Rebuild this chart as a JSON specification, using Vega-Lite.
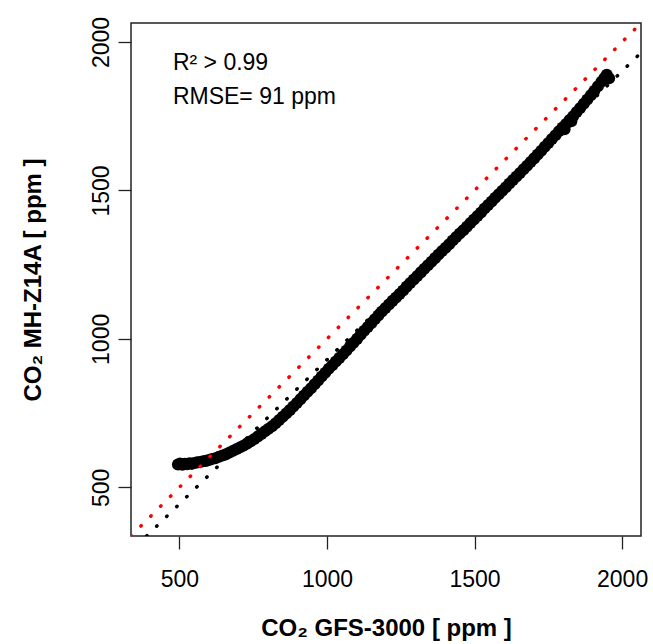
{
  "$schema": "https://vega.github.io/schema/vega-lite/v6.json",
  "width": 510,
  "height": 513,
  "autosize": {"type": "none"},
  "padding": {"left": 131, "top": 23, "right": 12, "bottom": 108},
  "background": "white",
  "config": {
    "view": {"stroke": "#222222", "strokeWidth": 1.5},
    "font": "Liberation Sans",
    "axis": {
      "domain": false,
      "grid": false,
      "ticks": true,
      "tickColor": "#222222",
      "tickWidth": 1.3,
      "tickSize": 13,
      "labelFont": "Liberation Sans",
      "labelFontSize": 23,
      "labelColor": "black",
      "titleFont": "Liberation Sans",
      "titleFontSize": 24,
      "titleFontWeight": "bold",
      "titleColor": "black"
    }
  },
  "datasets": {
    "obs": [
      {"x":495,"y":577},{"x":502,"y":580},{"x":510,"y":576},{"x":518,"y":579},{"x":526,"y":578},{"x":534,"y":581},{"x":542,"y":579},{"x":550,"y":582},{"x":560,"y":584},{"x":570,"y":585},{"x":580,"y":588},{"x":590,"y":589},{"x":600,"y":592},{"x":610,"y":595},{"x":622,"y":598},{"x":634,"y":603},{"x":646,"y":607},{"x":658,"y":611},{"x":670,"y":617},{"x":682,"y":623},{"x":694,"y":629},{"x":706,"y":635},{"x":718,"y":641},{"x":730,"y":648},{"x":742,"y":655},{"x":754,"y":663},{"x":766,"y":671},{"x":778,"y":680},{"x":790,"y":689},{"x":802,"y":697},{"x":814,"y":706},{"x":826,"y":716},{"x":838,"y":727},{"x":850,"y":738},{"x":862,"y":749},{"x":874,"y":760},{"x":886,"y":772},{"x":898,"y":784},{"x":910,"y":797},{"x":922,"y":809},{"x":934,"y":822},{"x":946,"y":834},{"x":958,"y":847},{"x":970,"y":860},{"x":982,"y":873},{"x":994,"y":886},{"x":1006,"y":899},{"x":1018,"y":911},{"x":1030,"y":924},{"x":1042,"y":936},{"x":1054,"y":948},{"x":1066,"y":961},{"x":1078,"y":974},{"x":1090,"y":987},{"x":1102,"y":1000},{"x":1114,"y":1014},{"x":1126,"y":1027},{"x":1138,"y":1040},{"x":1150,"y":1053},{"x":1162,"y":1066},{"x":1174,"y":1079},{"x":1186,"y":1092},{"x":1198,"y":1104},{"x":1210,"y":1116},{"x":1222,"y":1128},{"x":1234,"y":1139},{"x":1246,"y":1151},{"x":1258,"y":1163},{"x":1270,"y":1176},{"x":1282,"y":1188},{"x":1294,"y":1200},{"x":1306,"y":1212},{"x":1318,"y":1224},{"x":1330,"y":1236},{"x":1342,"y":1248},{"x":1354,"y":1260},{"x":1366,"y":1272},{"x":1378,"y":1284},{"x":1390,"y":1296},{"x":1402,"y":1307},{"x":1414,"y":1319},{"x":1426,"y":1331},{"x":1438,"y":1343},{"x":1450,"y":1355},{"x":1462,"y":1366},{"x":1474,"y":1378},{"x":1486,"y":1390},{"x":1498,"y":1402},{"x":1510,"y":1414},{"x":1522,"y":1426},{"x":1534,"y":1439},{"x":1546,"y":1451},{"x":1558,"y":1463},{"x":1570,"y":1475},{"x":1582,"y":1487},{"x":1594,"y":1499},{"x":1606,"y":1511},{"x":1618,"y":1523},{"x":1630,"y":1535},{"x":1642,"y":1547},{"x":1654,"y":1559},{"x":1666,"y":1571},{"x":1678,"y":1583},{"x":1690,"y":1596},{"x":1702,"y":1608},{"x":1714,"y":1621},{"x":1726,"y":1634},{"x":1738,"y":1647},{"x":1750,"y":1660},{"x":1762,"y":1673},{"x":1774,"y":1686},{"x":1786,"y":1699},{"x":1798,"y":1712},{"x":1805,"y":1706},{"x":1810,"y":1724},{"x":1822,"y":1737},{"x":1828,"y":1733},{"x":1834,"y":1750},{"x":1846,"y":1764},{"x":1858,"y":1778},{"x":1870,"y":1792},{"x":1882,"y":1806},{"x":1894,"y":1821},{"x":1906,"y":1836},{"x":1918,"y":1851},{"x":1930,"y":1866},{"x":1940,"y":1879},{"x":1948,"y":1890},{"x":1956,"y":1878}
    ],
    "oneToOne": [{"x": 336, "y": 336}, {"x": 2064, "y": 2064}],
    "fit": [{"x": 389, "y": 336}, {"x": 2064, "y": 1964}],
    "notes": [
      {"x": 478, "y": 1906, "label": "R² > 0.99"},
      {"x": 478, "y": 1791, "label": "RMSE= 91 ppm"}
    ]
  },
  "layer": [
    {
      "data": {"name": "obs"},
      "mark": {"type": "circle", "color": "black", "size": 145, "opacity": 1},
      "encoding": {
        "x": {
          "field": "x", "type": "quantitative",
          "scale": {"domain": [336, 2064], "nice": false, "zero": false},
          "axis": {"values": [500, 1000, 1500, 2000], "format": "d", "labelPadding": 19, "title": "CO₂ GFS-3000 [ ppm ]", "titlePadding": 25}
        },
        "y": {
          "field": "y", "type": "quantitative",
          "scale": {"domain": [336, 2064], "nice": false, "zero": false},
          "axis": {"values": [500, 1000, 1500, 2000], "format": "d", "labelAngle": -90, "labelAlign": "center", "labelBaseline": "bottom", "labelPadding": 5, "title": "CO₂ MH-Z14A [ ppm ]", "titlePadding": 45}
        }
      }
    },
    {
      "data": {"name": "oneToOne"},
      "mark": {"type": "line", "color": "red", "strokeWidth": 3.5, "strokeDash": [0.5, 13.5], "strokeCap": "round", "clip": true},
      "encoding": {
        "x": {"field": "x", "type": "quantitative"},
        "y": {"field": "y", "type": "quantitative"}
      }
    },
    {
      "data": {"name": "fit"},
      "mark": {"type": "line", "color": "black", "strokeWidth": 3.5, "strokeDash": [0.5, 13.5], "strokeCap": "round", "clip": true},
      "encoding": {
        "x": {"field": "x", "type": "quantitative"},
        "y": {"field": "y", "type": "quantitative"}
      }
    },
    {
      "data": {"name": "notes"},
      "mark": {"type": "text", "align": "left", "baseline": "alphabetic", "fontSize": 23, "font": "Liberation Sans", "color": "black"},
      "encoding": {
        "x": {"field": "x", "type": "quantitative"},
        "y": {"field": "y", "type": "quantitative"},
        "text": {"field": "label"}
      }
    }
  ]
}
